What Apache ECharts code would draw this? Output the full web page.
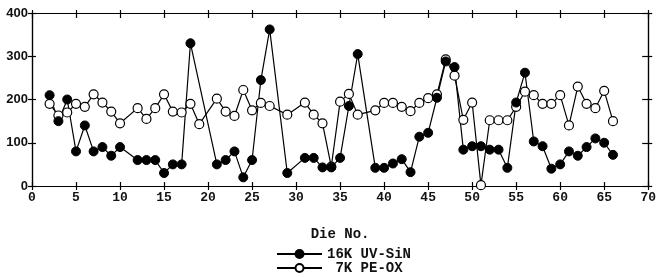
<!DOCTYPE html>
<html>
<head>
<meta charset="utf-8">
<script src="https://cdn.jsdelivr.net/npm/echarts@6/dist/echarts.min.js"></script>
<style>
  html, body { margin: 0; padding: 0; background: #fff; }
  #main { width: 659px; height: 277px; }
</style>
</head>
<body>
<div id="main"></div>
<script>
// Die numbers along the x axis
var dies = [];
for (var d = 2; d <= 66; d++) dies.push(d);

// 16K UV-SiN (filled circles), null = no point for that die
var uvSin = [210, 150, 200, 80, 140, 80, 90, 70, 90, null,
  60, 60, 60, 30, 50, 50, 330, null, null, 50,
  60, 80, 20, 60, 245, 362, null, 30, null, 65,
  65, 43, 43, 65, 185, 305, null, 42, 42, 52,
  62, 32, 114, 123, 204, 288, 275, 84, 92, 92,
  84, 84, 42, 193, 262, 103, 92, 40, 50, 80,
  70, 90, 110, 100, 72];

// 7K PE-OX (open circles)
var peOx = [190, 163, 170, 190, 183, 212, 193, 172, 145, null,
  180, 155, 180, 212, 172, 170, 190, 143, null, 202,
  172, 162, 222, 175, 192, 185, null, 165, null, 193,
  165, 145, 45, 195, 213, 165, null, 175, 192, 192,
  183, 173, 192, 203, 212, 293, 255, 153, 193, 2,
  152, 152, 152, 183, 218, 210, 190, 190, 210, 140,
  230, 190, 180, 220, 150];

var xTicks = { min: 0, max: 70, interval: 5 };
var yTicks = { min: 0, max: 400, interval: 100 };

function pairs(vals) {
  var out = [];
  for (var i = 0; i < dies.length; i++) {
    if (vals[i] != null) out.push([dies[i], vals[i]]);
  }
  return out;
}

var mono = '"Liberation Mono", "DejaVu Sans Mono", monospace';
var lineStyle = { color: '#000', width: 1.2 };

// helper for the extra tick-only axes (ticks cross the frame)
function tickAxis(kind, pos, inside, len) {
  var ax = {
    type: 'value', position: pos,
    axisLine: { show: true, onZero: false, lineStyle: lineStyle },
    axisTick: { show: true, inside: inside, length: len, lineStyle: lineStyle },
    axisLabel: { show: false },
    splitLine: { show: false }
  };
  var t = kind === 'x' ? xTicks : yTicks;
  ax.min = t.min; ax.max = t.max; ax.interval = t.interval;
  return ax;
}

var chart = echarts.init(document.getElementById('main'));
chart.setOption({
  animation: false,
  backgroundColor: '#fff',
  grid: { left: 32, right: 9, top: 13, bottom: 91 },
  xAxis: [
    {
      type: 'value', min: xTicks.min, max: xTicks.max, interval: xTicks.interval,
      position: 'bottom',
      name: 'Die No.', nameLocation: 'middle', nameGap: 41,
      nameTextStyle: { fontFamily: mono, fontWeight: 'bold', fontSize: 14, color: '#111' },
      axisLine: { onZero: false, lineStyle: lineStyle },
      axisTick: { inside: false, length: 4, lineStyle: lineStyle },
      axisLabel: { fontFamily: mono, fontWeight: 'bold', fontSize: 13, color: '#111', margin: 5 },
      splitLine: { show: false }
    },
    tickAxis('x', 'bottom', true, 4),
    tickAxis('x', 'top', true, 5),
    tickAxis('x', 'top', false, 3)
  ],
  yAxis: [
    {
      type: 'value', min: yTicks.min, max: yTicks.max, interval: yTicks.interval,
      position: 'left',
      axisLine: { show: true, onZero: false, lineStyle: lineStyle },
      axisTick: { show: true, inside: false, length: 4, lineStyle: lineStyle },
      axisLabel: { fontFamily: '"Liberation Sans", Arial, sans-serif', fontWeight: 'bold', fontSize: 13, color: '#111', margin: 4 },
      splitLine: { show: false }
    },
    tickAxis('y', 'left', true, 4),
    tickAxis('y', 'right', true, 6),
    tickAxis('y', 'right', false, 4)
  ],
  legend: {
    orient: 'vertical',
    left: 276, top: 247, padding: 0,
    itemWidth: 45, itemHeight: 10, itemGap: 0,
    data: ['16K UV-SiN', '7K PE-OX'],
    formatter: function (name) { return name === '7K PE-OX' ? ' ' + name : name; },
    textStyle: { fontFamily: mono, fontWeight: 'bold', fontSize: 14, lineHeight: 14, color: '#111' }
  },
  series: [
    {
      name: '7K PE-OX', type: 'line',
      xAxisIndex: 0, yAxisIndex: 0,
      data: pairs(peOx),
      symbol: 'circle', symbolSize: 9,
      itemStyle: { color: '#fff', borderColor: '#000', borderWidth: 1.2 },
      lineStyle: lineStyle
    },
    {
      name: '16K UV-SiN', type: 'line',
      xAxisIndex: 0, yAxisIndex: 0,
      data: pairs(uvSin),
      symbol: 'circle', symbolSize: 9,
      itemStyle: { color: '#000', borderColor: '#000', borderWidth: 1 },
      lineStyle: lineStyle
    }
  ]
});
</script>
</body>
</html>
